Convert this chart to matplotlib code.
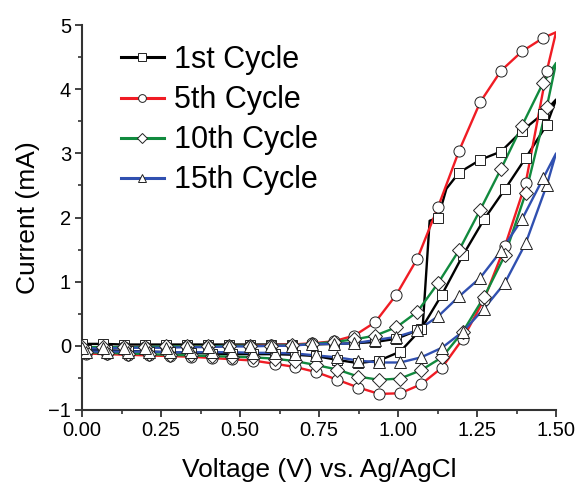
import matplotlib
matplotlib.use("Agg")
import matplotlib.pyplot as plt
from matplotlib.ticker import MultipleLocator, FormatStrFormatter

plt.rcParams["font.family"] = ["Liberation Sans", "DejaVu Sans"]

# voltage points of the reverse (upper) and forward (lower) branches
v_hi = [0.000, 0.066, 0.133, 0.199, 0.265, 0.332, 0.398, 0.464, 0.530, 0.597, 0.663, 0.729,
        0.796, 0.862, 0.928, 0.995, 1.061, 1.127, 1.193, 1.260, 1.326, 1.392, 1.459]
v_lo = [0.012, 0.078, 0.145, 0.211, 0.277, 0.344, 0.410, 0.476, 0.542, 0.609, 0.675, 0.741,
        0.808, 0.874, 0.940, 1.007, 1.073, 1.139, 1.205, 1.272, 1.338, 1.404, 1.471]
v_peak = 1.5

labels = ["1st Cycle", "5th Cycle", "10th Cycle", "15th Cycle"]

# 1st cycle (mA)
c1_lo = [-0.06, -0.07, -0.08, -0.09, -0.10, -0.11, -0.12, -0.13, -0.13, -0.13, -0.14, -0.16,
         -0.22, -0.27, -0.23, -0.09, 0.26, 0.80, 1.41, 1.97, 2.44, 2.93, 3.45]
c1_hi = [0.03, 0.03, 0.02, 0.02, 0.02, 0.02, 0.02, 0.02, 0.02, 0.02, 0.02, 0.02,
         0.03, 0.04, 0.06, 0.11, 0.24, 2.00, 2.70, 2.90, 3.03, 3.35, 3.62]
c1_peak = 3.84
# sharp step of the 1st cycle (extra line nodes, no symbol)
c1_step_v = [1.078, 1.100, 1.153]
c1_step_i = [0.30, 1.95, 2.45]

# 5th cycle
c5_lo = [-0.12, -0.13, -0.14, -0.15, -0.16, -0.17, -0.19, -0.21, -0.23, -0.28, -0.33, -0.41,
         -0.53, -0.65, -0.75, -0.74, -0.60, -0.34, 0.11, 0.72, 1.55, 2.54, 4.29]
c5_hi = [-0.03, -0.03, -0.02, -0.02, -0.02, -0.01, -0.01, 0.00, 0.00, 0.01, 0.02, 0.04,
         0.07, 0.16, 0.37, 0.80, 1.36, 2.17, 3.04, 3.80, 4.29, 4.59, 4.80]
c5_peak = 4.89

# 10th cycle
c10_lo = [-0.10, -0.11, -0.12, -0.13, -0.14, -0.15, -0.16, -0.17, -0.18, -0.20, -0.24, -0.30,
          -0.37, -0.48, -0.53, -0.51, -0.38, -0.18, 0.22, 0.76, 1.41, 2.38, 3.73]
c10_hi = [-0.02, -0.02, -0.02, -0.02, -0.01, -0.01, -0.01, 0.00, 0.00, 0.00, 0.01, 0.03,
          0.06, 0.10, 0.16, 0.29, 0.53, 0.98, 1.49, 2.12, 2.76, 3.43, 4.10]
c10_peak = 4.41

# 15th cycle
c15_lo = [-0.09, -0.09, -0.09, -0.09, -0.10, -0.10, -0.10, -0.10, -0.11, -0.11, -0.12, -0.15,
          -0.18, -0.23, -0.26, -0.26, -0.18, -0.03, 0.22, 0.58, 0.98, 1.60, 2.51]
c15_hi = [-0.04, -0.04, -0.03, -0.03, -0.03, -0.02, -0.02, -0.01, -0.01, 0.00, 0.00, 0.03,
          0.03, 0.04, 0.09, 0.14, 0.24, 0.46, 0.77, 1.06, 1.48, 1.97, 2.61]
c15_peak = 3.00


def _draw_cycle(ax, lo, hi, peak, color, marker, ms, label, step_v=(), step_i=()):
    # line: forward branch -> vertex -> reverse branch
    up_v = list(v_hi) + list(step_v)
    up_i = list(hi) + list(step_i)
    order = sorted(range(len(up_v)), key=lambda k: up_v[k], reverse=True)
    line_v = list(v_lo) + [v_peak] + [up_v[k] for k in order]
    line_i = list(lo) + [peak] + [up_i[k] for k in order]
    ax.plot(line_v, line_i, color=color, lw=1.7, zorder=2)
    ax.plot(list(v_lo) + list(v_hi), list(lo) + list(hi), ls="none", marker=marker, ms=ms,
            mfc="white", mec="#222222", mew=0.7, zorder=3)
    ax.plot([], [], color=color, lw=2.2, marker=marker, ms=ms * 0.7, mfc="white",
            mec="#222222", mew=0.7, label=label)


fig = plt.figure(figsize=(5.78, 4.84), dpi=100)
ax = fig.add_axes([0.142, 0.153, 0.820, 0.795])

_draw_cycle(ax, c1_lo, c1_hi, c1_peak, "black", "s", 7.5, labels[0], c1_step_v, c1_step_i)
_draw_cycle(ax, c5_lo, c5_hi, c5_peak, "#f01c24", "o", 8.0, labels[1])
_draw_cycle(ax, c10_lo, c10_hi, c10_peak, "#118a3e", "D", 6.8, labels[2])
_draw_cycle(ax, c15_lo, c15_hi, c15_peak, "#3050b0", "^", 8.8, labels[3])

ax.set_xlim(0, 1.5)
ax.set_ylim(-1, 5)
ax.xaxis.set_major_locator(MultipleLocator(0.25))
ax.xaxis.set_minor_locator(MultipleLocator(0.125))
ax.yaxis.set_major_locator(MultipleLocator(1))
ax.yaxis.set_minor_locator(MultipleLocator(0.5))
ax.xaxis.set_major_formatter(FormatStrFormatter("%.2f"))
for side in ("top", "right"):
    ax.spines[side].set_visible(False)
for side in ("left", "bottom"):
    ax.spines[side].set_linewidth(1.5)
    ax.spines[side].set_color("#333333")
ax.tick_params(which="major", direction="out", length=5, width=1.3, color="#333333",
               labelsize=14.5, pad=3)
ax.tick_params(which="minor", direction="out", length=3, width=1.2, color="#333333")

ax.set_xlabel("Voltage (V) vs. Ag/AgCl", fontsize=19, labelpad=13)
ax.set_ylabel("Current (mA)", fontsize=19, labelpad=6)

ax.legend(loc="upper left", bbox_to_anchor=(0.082, 0.948), frameon=False, fontsize=22,
          handlelength=1.4, handletextpad=0.33, labelspacing=0.33, borderpad=0,
          borderaxespad=0)

fig.savefig("out.png", dpi=100)
